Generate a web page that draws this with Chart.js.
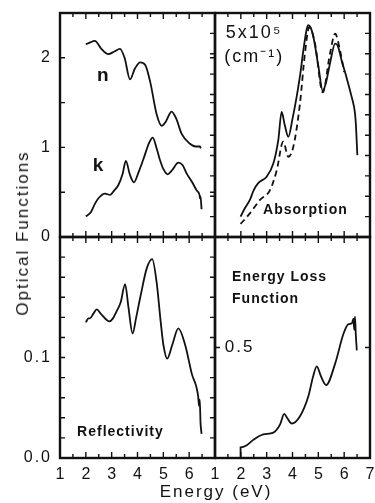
<!DOCTYPE html>
<html>
<head>
<meta charset="utf-8">
<script src="https://cdn.jsdelivr.net/npm/chart.js@4.4.1/dist/chart.umd.min.js"></script>
<style>
  html, body { margin: 0; padding: 0; background: #fff; }
  #wrap { position: relative; width: 375px; height: 503px; overflow: hidden; }
  #wrap canvas { position: absolute; left: 0; top: 0; }
  .title { position: absolute; font-family: "Liberation Sans", Arial, sans-serif; font-size: 17px; color: #111; white-space: nowrap; letter-spacing: 2px; }
  #ytitle { left: 23px; top: 233px; transform: translate(-50%, -50%) rotate(-90deg); }
  #xtitle { left: 216px; top: 492px; transform: translate(-50%, -50%); }
</style>
</head>
<body>
<div id="wrap">
  <canvas id="tl" width="375" height="503"></canvas>
  <canvas id="tr" width="375" height="503"></canvas>
  <canvas id="bl" width="375" height="503"></canvas>
  <canvas id="br" width="375" height="503"></canvas>
  <div class="title" id="ytitle">Optical Functions</div>
  <div class="title" id="xtitle">Energy (eV)</div>
</div>
<script>
// values (energy in eV)
var nEnergy = [2.0, 2.15, 2.35, 2.6, 2.87, 3.1, 3.32, 3.5, 3.71, 3.9, 4.1, 4.3, 4.5, 4.74, 4.94, 5.1, 5.32, 5.5, 5.71, 6.03, 6.25, 6.42, 6.45];
var nValues = [2.15, 2.17, 2.19, 2.10, 2.04, 2.07, 2.10, 2.0, 1.76, 1.88, 1.95, 1.92, 1.72, 1.37, 1.24, 1.29, 1.40, 1.32, 1.15, 1.04, 1.01, 1.01, 0.99];

var kEnergy = [2.0, 2.2, 2.35, 2.48, 2.74, 2.94, 3.1, 3.26, 3.42, 3.55, 3.7, 3.86, 4.05, 4.23, 4.45, 4.59, 4.75, 4.87, 5.0, 5.17, 5.35, 5.58, 5.75, 5.9, 6.1, 6.29, 6.4, 6.42, 6.44, 6.48];
var kValues = [0.23, 0.28, 0.37, 0.43, 0.485, 0.47, 0.52, 0.58, 0.70, 0.85, 0.70, 0.61, 0.73, 0.87, 1.05, 1.11, 0.98, 0.86, 0.76, 0.70, 0.75, 0.83, 0.80, 0.71, 0.62, 0.52, 0.47, 0.43, 0.45, 0.31];

// absorption in units of 1e5 cm^-1
var absEnergy = [1.99, 2.15, 2.35, 2.5, 2.68, 3.0, 3.26, 3.45, 3.58, 3.7, 3.84, 4.0, 4.16, 4.3, 4.42, 4.55, 4.61, 4.7, 4.81, 5.0, 5.17, 5.3, 5.45, 5.65, 5.75, 5.9, 6.1, 6.29, 6.38, 6.42, 6.45, 6.51];
var absValues = [0.50, 0.70, 0.91, 1.15, 1.33, 1.48, 1.81, 2.38, 3.07, 2.75, 2.46, 2.9, 3.44, 4.0, 4.58, 5.1, 5.20, 5.15, 4.91, 4.2, 3.59, 3.8, 4.26, 4.75, 4.7, 4.34, 3.9, 3.44, 3.2, 3.03, 2.8, 2.01];
var absDashEnergy = [1.99, 2.35, 2.74, 3.13, 3.39, 3.64, 3.84, 4.03, 4.29, 4.48, 4.65, 4.87, 5.17, 5.45, 5.65, 5.84, 6.0];
var absDashValues = [0.32, 0.58, 0.91, 1.15, 1.64, 2.34, 1.97, 2.21, 3.28, 4.50, 5.15, 4.75, 3.55, 4.50, 4.99, 4.58, 4.05];

var reflEnergy = [2.0, 2.1, 2.16, 2.3, 2.42, 2.6, 2.91, 3.05, 3.19, 3.35, 3.52, 3.65, 3.81, 3.95, 4.1, 4.36, 4.57, 4.74, 4.9, 5.0, 5.15, 5.35, 5.58, 5.84, 6.1, 6.35, 6.38, 6.41, 6.44, 6.48];
var reflValues = [0.135, 0.139, 0.139, 0.144, 0.148, 0.143, 0.136, 0.139, 0.146, 0.155, 0.173, 0.150, 0.124, 0.140, 0.159, 0.189, 0.198, 0.175, 0.135, 0.113, 0.099, 0.113, 0.129, 0.113, 0.084, 0.061, 0.052, 0.058, 0.035, 0.024];

var lossEnergy = [1.99, 1.99, 2.23, 2.48, 2.87, 3.26, 3.52, 3.68, 3.8, 3.97, 4.29, 4.61, 4.8, 4.94, 5.1, 5.30, 5.65, 5.97, 6.16, 6.3, 6.36, 6.39, 6.42, 6.45, 6.49];
var lossValues = [0.0, 0.048, 0.058, 0.082, 0.107, 0.115, 0.152, 0.20, 0.18, 0.156, 0.189, 0.278, 0.37, 0.415, 0.37, 0.33, 0.427, 0.561, 0.605, 0.61, 0.63, 0.58, 0.64, 0.56, 0.487];

// tick labels
var xLabelsLeft = [1, 2, 3, 4, 5, 6];
var xLabelsRight = [1, 2, 3, 4, 5, 6, 7];
var topLeftYLabels = [0, 1, 2];
var bottomLeftYLabels = [0.0, 0.1];

var FONT = '"Liberation Sans", Arial, sans-serif';

function pts(xs, ys) {
  return xs.map(function (x, i) { return { x: x, y: ys[i] }; });
}

function line(xs, ys, dash) {
  return {
    data: pts(xs, ys),
    borderColor: '#111',
    borderWidth: 1.8,
    borderDash: dash || [],
    pointRadius: 0,
    cubicInterpolationMode: 'monotone',
    fill: false
  };
}

// frame, inward ticks, tick labels and in-panel notes
var panelFrame = {
  id: 'panelFrame',
  afterDraw: function (chart, args, o) {
    var ctx = chart.ctx, a = chart.chartArea;
    var xs = chart.scales.x, ys = chart.scales.y;
    ctx.save();
    ctx.strokeStyle = '#111';
    ctx.lineWidth = 1.4;
    ctx.beginPath();
    var nx = Math.round((xs.max - xs.min) / 0.5);
    for (var i = 1; i < nx; i++) {
      var px = xs.getPixelForValue(xs.min + i * 0.5);
      var len = (i % 2 === 0) ? 6 : 4;
      ctx.moveTo(px, a.top); ctx.lineTo(px, a.top + len);
      ctx.moveTo(px, a.bottom); ctx.lineTo(px, a.bottom - len);
    }
    var ny = Math.round((ys.max - ys.min) / o.yStep);
    for (var j = 1; j < ny; j++) {
      var py = ys.getPixelForValue(ys.min + j * o.yStep);
      if (o.left) { ctx.moveTo(a.left, py); ctx.lineTo(a.left + 5 * o.left, py); }
      if (o.right) { ctx.moveTo(a.right, py); ctx.lineTo(a.right - 5 * o.right, py); }
    }
    ctx.stroke();
    ctx.lineWidth = 2.4;
    ctx.strokeRect(a.left, a.top, a.right - a.left, a.bottom - a.top);

    ctx.fillStyle = '#111';
    ctx.font = '16px ' + FONT;
    ctx.letterSpacing = '2px';
    ctx.textBaseline = 'middle';
    ctx.textAlign = 'right';
    (o.yLabels || []).forEach(function (v) {
      ctx.fillText(o.yDigits ? v.toFixed(o.yDigits) : String(v), a.left - 8, ys.getPixelForValue(v));
    });
    ctx.textAlign = 'center';
    (o.xLabels || []).forEach(function (v) {
      ctx.fillText(String(v), xs.getPixelForValue(v) + 1, a.bottom + 17);
    });
    (o.notes || []).forEach(function (t) {
      ctx.font = t.font + ' ' + FONT;
      ctx.letterSpacing = t.spacing || '0px';
      ctx.textAlign = t.align || 'center';
      ctx.fillText(t.text, xs.getPixelForValue(t.x), ys.getPixelForValue(t.y));
    });
    ctx.restore();
  }
};

function makePanel(id, pad, yMax, datasets, frame) {
  new Chart(document.getElementById(id).getContext('2d'), {
    type: 'line',
    data: { datasets: datasets },
    plugins: [panelFrame],
    options: {
      responsive: false,
      animation: false,
      devicePixelRatio: 1,
      layout: { padding: pad },
      plugins: { legend: { display: false }, tooltip: { enabled: false }, panelFrame: frame },
      scales: {
        x: { type: 'linear', min: 1, max: 7, display: false },
        y: { type: 'linear', min: 0, max: yMax, display: false }
      }
    }
  });
}

// n and k
makePanel('tl', { left: 60, top: 13, right: 160, bottom: 266 }, 2.5,
  [line(nEnergy, nValues), line(kEnergy, kValues)],
  { yStep: 0.5, left: 1, right: 1, yLabels: topLeftYLabels,
    notes: [{ text: 'n', x: 2.66, y: 1.8, font: 'bold 19px' }, { text: 'k', x: 2.47, y: 0.8, font: 'bold 19px' }] });

// absorption
makePanel('tr', { left: 215, top: 13, right: 5, bottom: 266 }, 5.5,
  [line(absEnergy, absValues), line(absDashEnergy, absDashValues, [6, 4])],
  { yStep: 0.5, left: -1, right: 1,
    notes: [{ text: '5x10⁵', x: 1.42, y: 5.0, font: '18px', align: 'left', spacing: '2px' },
            { text: '(cm⁻¹)', x: 1.36, y: 4.42, font: '18px', align: 'left', spacing: '2px' },
            { text: 'Absorption', x: 4.5, y: 0.66, font: 'bold 14px', spacing: '1px' }] });

// reflectivity
makePanel('bl', { left: 60, top: 237, right: 160, bottom: 45 }, 0.22,
  [line(reflEnergy, reflValues)],
  { yStep: 0.02, left: 1, right: 1, yLabels: bottomLeftYLabels, yDigits: 1, xLabels: xLabelsLeft,
    notes: [{ text: 'Reflectivity', x: 3.34, y: 0.026, font: 'bold 14px', spacing: '1px' }] });

// energy loss function
makePanel('br', { left: 215, top: 237, right: 5, bottom: 45 }, 1.0,
  [line(lossEnergy, lossValues)],
  { yStep: 0.5, left: 1, right: 1, xLabels: xLabelsRight,
    notes: [{ text: 'Energy Loss', x: 1.66, y: 0.82, font: 'bold 14px', align: 'left', spacing: '1px' },
            { text: 'Function', x: 1.66, y: 0.72, font: 'bold 14px', align: 'left', spacing: '1px' },
            { text: '0.5', x: 1.38, y: 0.5, font: '17px', align: 'left', spacing: '2px' }] });
</script>
</body>
</html>
